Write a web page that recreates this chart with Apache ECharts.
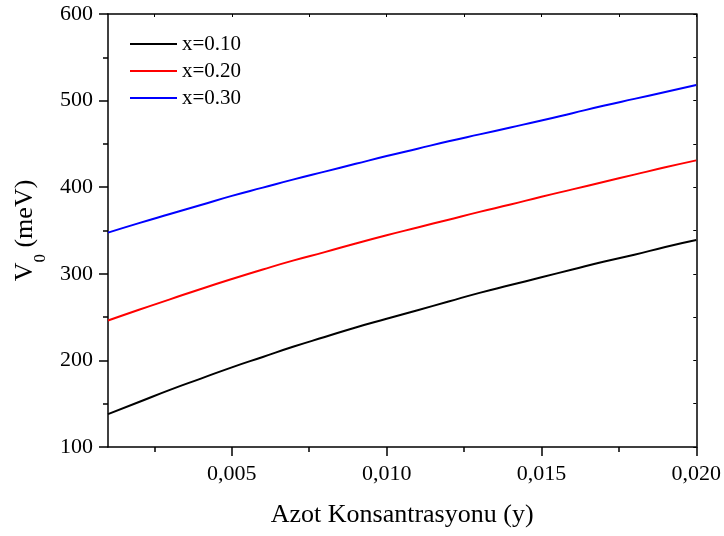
<!DOCTYPE html>
<html>
<head>
<meta charset="utf-8">
<style>
  html, body { margin: 0; padding: 0; background: #fff; }
  #chart { width: 724px; height: 536px; }
</style>
<script src="https://cdn.jsdelivr.net/npm/echarts@6/dist/echarts.min.js"></script>
</head>
<body>
<div id="chart"></div>
<script>
// Nitrogen concentration y (x-axis)
const concentration = [0.001, 0.002, 0.003, 0.004, 0.005, 0.006, 0.007, 0.008, 0.009, 0.010,
                       0.011, 0.012, 0.013, 0.014, 0.015, 0.016, 0.017, 0.018, 0.019, 0.020];
// V0 (meV) for each indium fraction x
const v0_x010 = [138, 152, 166, 179, 192, 204, 216, 227, 238, 248,
                 258, 268, 278, 287, 296, 305, 314, 322, 331, 339];
const v0_x020 = [246, 258.5, 270.5, 282.5, 294, 305, 315.5, 325, 335, 344.5,
                 353.5, 362.5, 371.5, 380, 389, 397.5, 406, 414.5, 423, 431];
const v0_x030 = [347.5, 358.5, 369, 379.5, 390, 399.5, 409, 418, 427, 436,
                 444.5, 453, 461, 469, 477, 485.5, 494, 502, 510, 518];
const seriesNames = ['x=0.10', 'x=0.20', 'x=0.30'];
const seriesColors = ['#000000', '#ff0000', '#0000ff'];
const xMajorTicks = [0.005, 0.010, 0.015, 0.020];
const xMinorTicks = [0.0025, 0.0075, 0.0125, 0.0175];
const yTicks = [100, 200, 300, 400, 500, 600];
const yMinorTicks = [150, 250, 350, 450, 550];

const FONT = '"Liberation Serif", "Times New Roman", serif';
const X_MIN = 0.001, X_MAX = 0.020, Y_MIN = 100, Y_MAX = 600;
const axisLineStyle = { color: '#000', width: 1.5 };

function pairs(ys) { return concentration.map((c, i) => [c, ys[i]]); }

const chart = echarts.init(document.getElementById('chart'), null, { renderer: 'canvas' });

const baseX = { type: 'value', min: X_MIN, max: X_MAX, splitLine: { show: false } };
const baseY = { type: 'value', min: Y_MIN, max: Y_MAX, splitLine: { show: false } };

chart.setOption({
  animation: false,
  backgroundColor: '#ffffff',
  grid: { left: 108, right: 27, top: 14, bottom: 89, containLabel: false },
  legend: {
    orient: 'vertical',
    left: 130,
    top: 33,
    padding: 0,
    itemWidth: 47,
    itemHeight: 2,
    itemGap: 5,
    icon: 'rect',
    data: seriesNames,
    textStyle: { fontFamily: FONT, fontSize: 21, color: '#000', lineHeight: 22 }
  },
  xAxis: [
    Object.assign({}, baseX, {
      position: 'bottom',
      axisLine: { show: true, onZero: false, lineStyle: axisLineStyle },
      axisTick: { show: true, inside: false, length: 9, customValues: xMajorTicks, lineStyle: axisLineStyle },
      axisLabel: {
        show: true, margin: 16, customValues: xMajorTicks,
        fontFamily: FONT, fontSize: 22, color: '#000',
        formatter: v => v.toFixed(3).replace('.', ',')
      },
      name: 'Azot Konsantrasyonu (y)',
      nameLocation: 'middle',
      nameGap: 55,
      nameTextStyle: { fontFamily: FONT, fontSize: 26, color: '#000' }
    }),
    Object.assign({}, baseX, {
      position: 'bottom',
      axisLine: { show: false, onZero: false },
      axisTick: { show: true, inside: false, length: 5, customValues: xMinorTicks, lineStyle: axisLineStyle },
      axisLabel: { show: false }
    }),
    Object.assign({}, baseX, {
      position: 'top',
      axisLine: { show: true, onZero: false, lineStyle: axisLineStyle },
      axisTick: { show: true, inside: true, length: 3, customValues: xMajorTicks.concat(xMinorTicks), lineStyle: { color: '#000', width: 1 } },
      axisLabel: { show: false }
    })
  ],
  yAxis: [
    Object.assign({}, baseY, {
      position: 'left',
      axisLine: { show: true, onZero: false, lineStyle: axisLineStyle },
      axisTick: { show: true, inside: false, length: 9, customValues: yTicks, lineStyle: axisLineStyle },
      axisLabel: {
        show: true, margin: 15, customValues: yTicks,
        fontFamily: FONT, fontSize: 22, color: '#000'
      },
      name: '{v|V}{s|0}{v| (meV)}',
      nameLocation: 'middle',
      nameRotate: 90,
      nameGap: 64,
      nameTextStyle: {
        rich: {
          v: { fontFamily: FONT, fontSize: 26, color: '#000' },
          s: { fontFamily: FONT, fontSize: 17, color: '#000', verticalAlign: 'bottom', padding: [0, 0, -11, 0] }
        }
      }
    }),
    Object.assign({}, baseY, {
      position: 'left',
      axisLine: { show: false, onZero: false },
      axisTick: { show: true, inside: false, length: 5, customValues: yMinorTicks, lineStyle: axisLineStyle },
      axisLabel: { show: false }
    }),
    Object.assign({}, baseY, {
      position: 'right',
      axisLine: { show: true, onZero: false, lineStyle: axisLineStyle },
      axisTick: { show: true, inside: true, length: 3, customValues: yTicks.concat(yMinorTicks), lineStyle: { color: '#000', width: 1 } },
      axisLabel: { show: false }
    })
  ],
  series: [v0_x010, v0_x020, v0_x030].map((vals, i) => ({
    name: seriesNames[i],
    type: 'line',
    xAxisIndex: 0,
    yAxisIndex: 0,
    data: pairs(vals),
    smooth: true,
    showSymbol: false,
    symbol: 'none',
    color: seriesColors[i],
    lineStyle: { color: seriesColors[i], width: 2 }
  }))
});
</script>
</body>
</html>
